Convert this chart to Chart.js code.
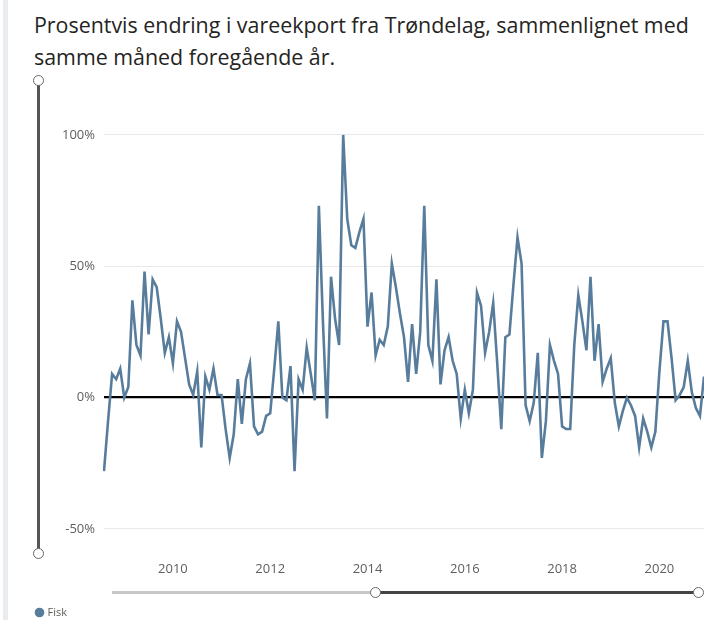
<!DOCTYPE html>
<html>
<head>
<title>Vareeksport Trøndelag</title>
<style>
  body { margin: 0; width: 704px; height: 620px; overflow: hidden; background: #fff; position: relative; font-family: "Open Sans", sans-serif; }
  .strip { position: absolute; left: 3px; top: 0; width: 5px; height: 620px; background: #e9ecef; }
  .title { position: absolute; left: 34px; top: 9px; font-size: 21.4px; line-height: 32px; color: #252423; white-space: nowrap; }
  .chart-container { position: absolute; left: 0; top: 105px; width: 704px; height: 523px; }
  .vline { position: absolute; left: 37px; top: 80px; width: 3px; height: 473px; background: #555; }
  .hline-light { position: absolute; left: 112px; top: 591px; width: 263px; height: 3px; background: #c8c8c8; }
  .hline-dark { position: absolute; left: 375px; top: 591px; width: 323px; height: 3px; background: #444; }
  .knob { position: absolute; width: 11px; height: 11px; border-radius: 50%; background: #fff; border: 1.5px solid #666; box-sizing: border-box; margin-left: -5.5px; margin-top: -5.5px; }
</style>
</head>
<body>
<div class="strip"></div>
<div class="title">Prosentvis endring i vareekport fra Trøndelag, sammenlignet med<br>samme måned foregående år.</div>
<div class="chart-container">
<canvas id="mycanvas" width="704" height="523"></canvas>
</div>
<div class="vline"></div>
<div class="knob" style="left:38.5px; top:80px"></div>
<div class="knob" style="left:38.5px; top:553px"></div>
<div class="hline-light"></div>
<div class="hline-dark"></div>
<div class="knob" style="left:375px; top:592px"></div>
<div class="knob" style="left:698px; top:592px"></div>

<script src="https://cdn.jsdelivr.net/npm/chart.js@4.4.0/dist/chart.umd.min.js"></script>
<script>
// monthly series, Aug 2008 - Dec 2020
var startYear = 2008;
var startMonth = 8;

var fisk = [
  -28, -9, 9, 7, 11, 0, 4, 37, 20, 16, 48, 24,
  45, 42, 30, 17, 23, 13, 29, 25, 15, 5, 1, 10,
  -19, 8, 3, 11, 1, 1, -12, -23, -14, 7, -10, 7,
  13, -11, -14, -13, -7, -6, 11, 29, 0, -1, 12, -28,
  7, 3, 19, 9, -1, 73, 29, -8, 46, 30, 20, 100,
  68, 58, 57, 63, 68, 27, 40, 16, 22, 20, 27, 51,
  42, 32, 23, 6, 28, 9, 25, 73, 20, 14, 45, 5,
  18, 23, 14, 9, -8, 3, -6, 3, 40, 35, 17, 25,
  36, 13, -12, 23, 24, 43, 61, 51, -3, -9, -2, 17,
  -23, -9, 20, 14, 9, -11, -12, -12, 20, 39, 29, 18,
  46, 14, 28, 6, 11, 15, -2, -11, -5, 0, -3, -7,
  -19, -8, -13, -19, -13, 10, 29, 29, 15, -1, 1, 4,
  14, 2, -4, -7, 8
];

var yTicks = [-50, 0, 50, 100];
var xTickYears = [2010, 2012, 2014, 2016, 2018, 2020];

var months = [];
for (var i = 0; i < fisk.length; i++) {
  var m = startMonth - 1 + i;
  var y = startYear + Math.floor(m / 12);
  var mm = (m % 12) + 1;
  months.push(y + "-" + (mm < 10 ? "0" + mm : mm));
}

var tickFont = { family: "'Open Sans', sans-serif", size: 13 };
var grey = "#605e5c";

var ctx = document.getElementById("mycanvas");
new Chart(ctx, {
  type: "line",
  data: {
    labels: months,
    datasets: [{
      label: "Fisk",
      data: fisk,
      borderColor: "#587d9c",
      backgroundColor: "#587d9c",
      borderWidth: 2.6,
      pointRadius: 0,
      tension: 0,
      fill: false
    }]
  },
  options: {
    responsive: false,
    animation: false,
    devicePixelRatio: 1,
    layout: { padding: { top: 7, left: 27, right: 0, bottom: 0 } },
    plugins: {
      tooltip: { enabled: false },
      legend: {
        position: "bottom",
        align: "start",
        labels: {
          usePointStyle: true,
          pointStyle: "circle",
          boxWidth: 5,
          boxHeight: 5,
          padding: 10,
          color: grey,
          font: { family: "'Open Sans', sans-serif", size: 11 }
        }
      }
    },
    scales: {
      x: {
        grid: { display: false },
        border: { display: false },
        afterFit: function (scale) { scale.height = 55; },
        ticks: {
          autoSkip: false,
          maxRotation: 0,
          padding: 11,
          color: grey,
          font: tickFont,
          callback: function (val, idx) {
            var lab = months[idx];
            var yr = parseInt(lab.slice(0, 4), 10);
            if (lab.slice(5) === "01" && xTickYears.indexOf(yr) >= 0) return String(yr);
            return null;
          }
        }
      },
      y: {
        min: -55,
        max: 105,
        afterFit: function (scale) { scale.width = 77; },
        afterBuildTicks: function (scale) {
          scale.ticks = yTicks.map(function (v) { return { value: v }; });
        },
        border: { display: false },
        grid: {
          drawTicks: false,
          color: function (c) { return c.tick && c.tick.value === 0 ? "#000" : "#e9e9e9"; },
          lineWidth: function (c) { return c.tick && c.tick.value === 0 ? 2.2 : 1; }
        },
        ticks: {
          padding: 9,
          color: grey,
          font: tickFont,
          callback: function (v) { return v + "%"; }
        }
      }
    }
  }
});
</script>
</body>
</html>
